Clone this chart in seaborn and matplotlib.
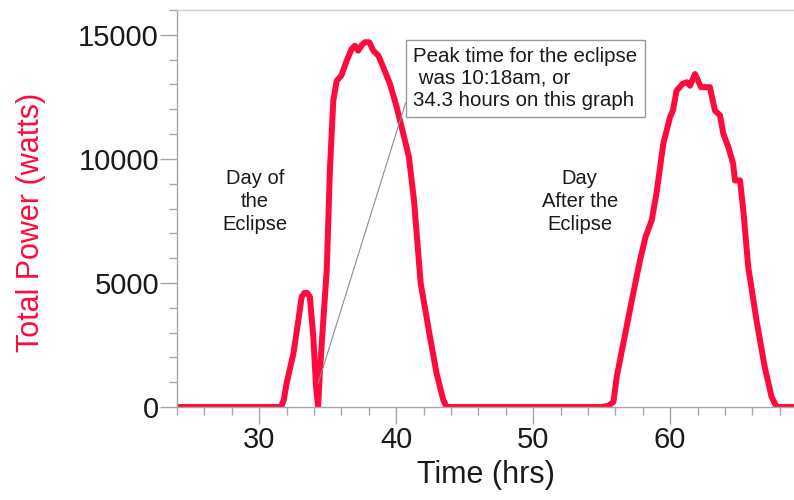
import matplotlib
matplotlib.use("Agg")
import matplotlib.pyplot as plt
from matplotlib.ticker import MultipleLocator
import pandas as pd
import seaborn as sns

# ---- data ----
time_hrs = [24.0, 31.6, 31.8, 32.0, 32.5, 32.86, 33.1, 33.3, 33.5, 33.7, 33.95, 34.15,
            34.3, 34.44, 34.68, 34.93, 35.17, 35.41, 35.66, 36.0, 36.39, 36.75, 36.99,
            37.23, 37.5, 37.72, 38.04, 38.33, 38.7, 39.06, 39.55, 40.04, 40.52, 40.93,
            41.3, 41.79, 42.42, 42.95, 43.44, 43.68,
            55.0, 55.5, 55.86, 56.1, 56.58, 57.3, 57.8, 58.2, 58.65, 59.0, 59.5, 59.99,
            60.2, 60.47, 60.9, 61.2, 61.45, 61.81, 62.25, 62.9, 63.27, 63.64, 63.88,
            64.25, 64.6, 64.73, 65.1, 65.34, 65.7, 66.3, 66.9, 67.4, 67.77, 69.1]
power_watts = [0, 0, 300, 950, 2160, 3500, 4440, 4600, 4600, 4440, 2830, 820,
               0, 1490, 3500, 5500, 9670, 12350, 13150, 13360, 13960, 14430, 14560,
               14360, 14600, 14700, 14700, 14360, 14160, 13690, 13020, 12080, 11010, 10070,
               8330, 4980, 2970, 1350, 280, 0,
               0, 50, 210, 1220, 2560, 4570, 5910, 6850, 7520, 8600, 10610, 11680,
               11950, 12750, 13020, 13090, 12950, 13420, 12890, 12890, 11950, 11750, 11010,
               10470, 9800, 9130, 9130, 7930, 5640, 3500, 1620, 414, 0, 0]

x_major_ticks = [30, 40, 50, 60]
y_major_ticks = [0, 5000, 10000, 15000]

x_label = "Time (hrs)"
y_label = "Total Power (watts)"
label_day1 = "Day of\nthe\nEclipse"
label_day2 = "Day\nAfter the\nEclipse"
note_text = "Peak time for the eclipse\n was 10:18am, or\n34.3 hours on this graph"
peak_time = 34.3
peak_point_power = 950

RED = "#ff0a3c"
GRAY = "#a6a6a6"
TEXT = "#1a1a1a"

df = pd.DataFrame({"time": time_hrs, "power": power_watts})

sns.set_theme(style="white")
plt.rcParams["font.family"] = ["Liberation Sans", "DejaVu Sans"]

fig = plt.figure(figsize=(7.94, 5.0), dpi=100)
ax = fig.add_axes([177 / 794, 93 / 500, 617 / 794, 397 / 500])

sns.lineplot(data=df, x="time", y="power", ax=ax, color=RED, linewidth=4.3,
             estimator=None, sort=False)
for ln in ax.lines:
    ln.set_solid_joinstyle("round")
    ln.set_solid_capstyle("butt")

ax.set_xlim(24, 69.04)
ax.set_ylim(0, 16000)
ax.set_xticks(x_major_ticks)
ax.set_yticks(y_major_ticks)
ax.xaxis.set_minor_locator(MultipleLocator(2))
ax.yaxis.set_minor_locator(MultipleLocator(1000))

ax.tick_params(axis="both", which="major", direction="out", length=12, width=1,
               color=GRAY, labelsize=21, labelcolor=TEXT)
ax.tick_params(axis="both", which="minor", direction="out", length=5.5, width=1,
               color=GRAY)
ax.tick_params(axis="x", which="both", bottom=True, pad=2)
ax.tick_params(axis="y", which="both", left=True, pad=1)

for side in ["left", "bottom"]:
    ax.spines[side].set_color(GRAY)
    ax.spines[side].set_linewidth(1)
ax.spines["top"].set_color("#d0d0d0")
ax.spines["top"].set_linewidth(1)
ax.spines["right"].set_visible(False)

ax.set_xlabel(x_label, fontsize=22, color=TEXT, labelpad=4)
ax.set_ylabel(y_label, fontsize=22, color=RED)
ax.yaxis.set_label_coords(-0.212, 0.466)

ax.text(29.7, 8290, label_day1, ha="center", va="center", fontsize=14.5,
        color=TEXT, linespacing=1.25)
ax.text(53.4, 8290, label_day2, ha="center", va="center", fontsize=14.5,
        color=TEXT, linespacing=1.25)

ax.annotate(note_text, xy=(peak_time, peak_point_power), xytext=(41.25, 13250),
            ha="left", va="center", fontsize=14.8, color=TEXT, linespacing=1.2,
            bbox=dict(boxstyle="square,pad=0.35", fc="white", ec="#999999", lw=1),
            arrowprops=dict(arrowstyle="-", color="#8c8c8c", lw=0.8,
                            relpos=(0, 0.5), shrinkA=0, shrinkB=0))

fig.savefig("out.png", dpi=100)
